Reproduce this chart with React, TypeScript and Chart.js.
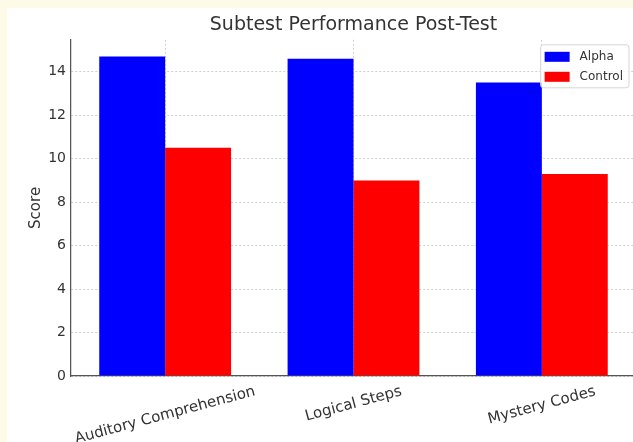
import React, { useEffect, useRef } from "react";
import { Chart, registerables } from "chart.js";

Chart.register(...registerables);

const categories = ["Auditory Comprehension", "Logical Steps", "Mystery Codes"];
const seriesNames = ["Alpha", "Control"];
const alphaScores = [14.7, 14.6, 13.5];
const controlScores = [10.5, 9.0, 9.3];
const seriesColors = ["#0000ff", "#ff0000"];
const yMax = 15.47;
const yStep = 2;
const titleText = "Subtest Performance Post-Test";
const yLabel = "Score";

const FONT = '"DejaVu Sans", sans-serif';
const TEXT = "#333333";
const GRID = "rgba(176,176,176,0.6)";

const rotatedLabels = {
  id: "rotatedLabels",
  afterDraw(chart: any) {
    const { ctx, chartArea } = chart;
    const xs = chart.scales.x;
    const ang = (15 * Math.PI) / 180;
    ctx.save();
    ctx.font = `15px ${FONT}`;
    ctx.fillStyle = TEXT;
    categories.forEach((lab, i) => {
      const x = xs.getPixelForValue(i);
      const w = ctx.measureText(lab).width;
      const lh = 17;
      const H = w * Math.sin(ang) + lh * Math.cos(ang);
      const cy = chartArea.bottom + 7 + H / 2;
      ctx.save();
      ctx.translate(x, cy);
      ctx.rotate(-ang);
      ctx.textAlign = "center";
      ctx.textBaseline = "middle";
      ctx.fillText(lab, 0, 0);
      ctx.restore();
    });
    ctx.restore();
  },
};

const boxLegend = {
  id: "boxLegend",
  afterDraw(chart: any) {
    const { ctx, chartArea } = chart;
    const ds = chart.data.datasets;
    ctx.save();
    ctx.font = `12px ${FONT}`;
    const tw = Math.max(...ds.map((d: any) => ctx.measureText(d.label).width));
    const padL = 4, sw = 25, sh = 10, gap = 10, padR = 6, rowH = 20, padT = 2;
    const bw = padL + sw + gap + tw + padR;
    const bh = padT + rowH * ds.length + 1;
    const right = chartArea.right - 7;
    const left = right - bw;
    const top = chartArea.top + 5;
    const r = 3;
    ctx.beginPath();
    ctx.moveTo(left + r, top);
    ctx.lineTo(right - r, top);
    ctx.arcTo(right, top, right, top + r, r);
    ctx.lineTo(right, top + bh - r);
    ctx.arcTo(right, top + bh, right - r, top + bh, r);
    ctx.lineTo(left + r, top + bh);
    ctx.arcTo(left, top + bh, left, top + bh - r, r);
    ctx.lineTo(left, top + r);
    ctx.arcTo(left, top, left + r, top, r);
    ctx.closePath();
    ctx.fillStyle = "rgba(255,255,255,0.8)";
    ctx.fill();
    ctx.strokeStyle = "#d6d6d6";
    ctx.lineWidth = 1;
    ctx.stroke();
    ds.forEach((d: any, i: number) => {
      const cy = top + padT + rowH * i + rowH / 2;
      ctx.fillStyle = d.backgroundColor;
      ctx.fillRect(left + padL, cy - sh / 2, sw, sh);
      ctx.fillStyle = TEXT;
      ctx.textAlign = "left";
      ctx.textBaseline = "middle";
      ctx.fillText(d.label, left + padL + sw + gap, cy);
    });
    ctx.restore();
  },
};

export default function App() {
  const ref = useRef<HTMLCanvasElement>(null);
  useEffect(() => {
    const gridOpts = { color: GRID, lineWidth: 1, drawTicks: false };
    const borderOpts = { display: true, color: "#555555", width: 1.25, dash: [2, 2] };
    const chart = new Chart(ref.current as HTMLCanvasElement, {
      type: "bar",
      data: {
        labels: categories,
        datasets: [
          { label: seriesNames[0], data: alphaScores, backgroundColor: seriesColors[0], borderWidth: 0, categoryPercentage: 0.7, barPercentage: 1.0 },
          { label: seriesNames[1], data: controlScores, backgroundColor: seriesColors[1], borderWidth: 0, categoryPercentage: 0.7, barPercentage: 1.0 },
        ],
      },
      options: {
        responsive: false,
        maintainAspectRatio: false,
        animation: false,
        layout: { padding: { left: 0, right: 11, top: 0, bottom: 0 } },
        plugins: {
          legend: { display: false },
          tooltip: { enabled: false },
          title: {
            display: true,
            text: titleText,
            fullSize: false,
            color: TEXT,
            font: { family: FONT, size: 19, weight: "normal" },
            padding: { top: 6, bottom: 3 },
          },
        },
        scales: {
          x: {
            type: "category",
            offset: true,
            z: 1,
            grid: { ...gridOpts, offset: false },
            border: borderOpts,
            ticks: { display: false },
            afterFit: (s: any) => { s.height = 66; },
          },
          y: {
            min: 0,
            max: yMax,
            z: 1,
            grid: gridOpts,
            border: borderOpts,
            ticks: { stepSize: yStep, includeBounds: false, padding: 5, color: TEXT, font: { family: FONT, size: 14 } },
            title: { display: true, text: yLabel, color: TEXT, font: { family: FONT, size: 15 }, padding: { top: 20, bottom: 0 } },
            afterFit: (s: any) => { s.width = 64; },
          },
        },
      } as any,
      plugins: [rotatedLabels, boxLegend],
    });
    return () => chart.destroy();
  }, []);
  return (
    <div style={{ position: "fixed", left: 0, top: 0, width: 633, height: 442, overflow: "hidden", background: "#fefae8" }}>
      <canvas
        ref={ref}
        width={640}
        height={434}
        style={{ position: "absolute", left: 7, top: 8, width: 640, height: 434, background: "#ffffff" }}
      />
    </div>
  );
}
